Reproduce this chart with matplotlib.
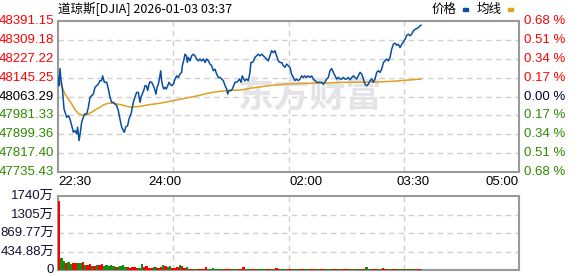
import matplotlib.pyplot as plt
from matplotlib.patches import Rectangle
from matplotlib.transforms import blended_transform_factory

plt.rcParams['font.family'] = ['Liberation Sans', 'Noto Sans CJK SC', 'DejaVu Sans']

title = '道琼斯[DJIA] 2026-01-03 03:37'
price_ticks = [47735.43, 47817.40, 47899.36, 47981.33, 48063.29, 48145.25, 48227.22, 48309.18, 48391.15]
pct_labels = ['0.68', '0.51', '0.34', '0.17', '0.00', '0.17', '0.34', '0.51', '0.68']
time_labels = ['22:30', '24:00', '02:00', '03:30', '05:00']
time_pos = [0, 90, 210, 300, 390]
vol_ticks = [0, 434.88, 869.77, 1305, 1740]
vol_labels = ['0', '434.88万', '869.77万', '1305万', '1740万']

# minutes since 22:30, price
price_t = [0.5, 0.8, 1.7, 2.5, 3.7, 5.1, 6.0, 7.3, 8.7, 10.1, 11.6, 13.0, 14.4, 15.8, 16.6, 17.8, 18.9, 20.0, 21.4, 22.8,
           24.3, 25.7, 27.1, 28.5, 29.9, 31.3, 32.7, 34.1, 35.5, 36.9, 37.8, 39.2, 41.2, 42.6, 44.0, 45.4, 46.8, 48.2,
           49.6, 51.0, 52.4, 53.9, 55.3, 56.1, 57.2, 58.9, 60.1, 61.8, 62.9, 64.0, 65.1, 66.5, 68.0, 69.4, 70.2, 71.3,
           72.5, 73.6, 74.7, 75.9, 77.0, 77.8,
           79.2, 80.7, 82.1, 82.9, 83.8, 84.9, 86.0, 86.9, 87.7, 88.5, 89.4, 90.5, 91.6, 92.8, 93.9, 95.0, 96.2, 97.6,
           99.0, 100.4, 101.8, 103.2, 104.6, 105.2, 106.3, 107.4, 108.6, 109.4, 110.3, 111.7, 113.1, 114.5, 115.9,
           117.3, 118.7, 120.1, 121.5, 123.0, 124.4, 125.8, 127.2, 128.6, 130.0, 131.4, 132.8, 134.2, 135.6, 137.1,
           138.5, 139.9, 141.3, 142.7, 143.5, 144.7, 146.4, 147.5, 148.6, 149.7,
           151.1, 152.5, 153.6, 154.8, 155.9, 157.0, 158.2, 159.6, 161.0, 162.4, 163.2, 164.4, 165.5, 166.6, 168.0,
           169.4, 170.9, 172.3, 173.7, 175.1, 176.5, 177.9, 179.3, 180.7, 182.1, 183.5, 184.9, 186.4, 187.8, 189.2,
           190.6, 192.0, 193.4, 194.8, 196.2, 197.6, 199.1, 200.5, 201.9, 203.3, 204.7, 206.1, 207.5, 208.9, 210.3,
           211.7, 213.1, 214.6, 216.0, 217.4, 218.8, 220.2, 221.6, 223.0, 224.4, 225.8,
           227.3, 228.7, 230.1, 231.5, 232.9, 234.4, 235.8, 237.2, 238.6, 240.0, 241.4, 242.8, 244.2, 245.6, 247.1,
           248.5, 249.9, 251.3, 252.7, 254.1, 255.5, 256.9, 258.3, 259.7, 261.2, 262.6, 264.0, 265.4, 266.8, 268.2,
           269.6, 271.0, 272.4, 273.8, 275.3, 276.7, 278.1, 279.5, 280.9, 282.3, 283.7, 285.1, 286.5, 287.9, 289.4,
           290.8, 292.2, 293.6, 295.0, 296.4, 297.8, 299.2, 300.6, 302.0, 303.5, 304.9, 306.3, 307.1]
price_v = [48146, 48110, 48185, 48139, 48096, 48009, 47995, 47973, 47980, 47966, 47937, 47908, 47915, 47901, 47930,
           47872, 47908, 47951, 47973, 47988, 47988, 48016, 48060, 48067, 48074, 48103, 48110, 48117, 48132, 48132,
           48153, 48125, 48125, 48096, 48060, 48038, 48038, 48031, 48024, 48002, 47966, 47930, 47915, 47908, 47930,
           47937, 47966, 47988, 48016, 48045, 48060, 48081, 48081, 48038, 48060, 48074, 48089, 48110, 48110, 48089,
           48117, 48127,
           48125, 48110, 48089, 48074, 48103, 48117, 48146, 48175, 48132, 48110, 48096, 48103, 48096, 48110, 48125,
           48117, 48110, 48117, 48139, 48153, 48146, 48161, 48168, 48197, 48218, 48247, 48240, 48211, 48233, 48218,
           48240, 48247, 48240, 48226, 48218, 48226, 48218, 48226, 48211, 48226, 48218, 48204, 48197, 48175, 48182,
           48161, 48146, 48146, 48139, 48132, 48110, 48096, 48074, 48089, 48089, 48096, 48110, 48125,
           48125, 48132, 48139, 48125, 48153, 48139, 48132, 48139, 48132, 48168, 48211, 48211, 48218, 48233, 48240,
           48247, 48240, 48247, 48240, 48233, 48226, 48218, 48240, 48262, 48254, 48262, 48240, 48218, 48211, 48211,
           48197, 48190, 48204, 48197, 48190, 48161, 48146, 48132, 48139, 48132, 48139, 48153, 48146, 48153, 48146,
           48153, 48146, 48153, 48139, 48132, 48125, 48125, 48125, 48125, 48117, 48125,
           48139, 48146, 48175, 48185, 48168, 48153, 48139, 48146, 48139, 48139, 48146, 48139, 48139, 48146, 48136,
           48146, 48153, 48146, 48139, 48153, 48168, 48161, 48139, 48117, 48110, 48117, 48132, 48139, 48125, 48139,
           48168, 48175, 48168, 48182, 48211, 48218, 48226, 48218, 48233, 48269, 48290, 48295, 48286, 48290, 48276,
           48290, 48301, 48312, 48329, 48334, 48327, 48334, 48348, 48355, 48358, 48363, 48370, 48373]

avg_t = [0.8, 3.1, 5.9, 8.7, 11.6, 14.4, 17.2, 20.0, 24.3, 27.1, 29.9, 32.7, 35.5, 38.4, 42.6, 46.8, 49.6, 53.9,
         58.1, 62.3, 66.6, 70.8, 77.8, 82.1, 90.5, 101.8, 115.9, 130.0, 144.1, 154.0, 163.8, 177.9, 192.0, 206.1,
         230.1, 240.0, 254.1, 268.2, 282.3, 292.2, 307.1]
avg_v = [48139, 48110, 48074, 48052, 48031, 48006, 47990, 47983, 47983, 47992, 47999, 48009, 48016, 48027, 48034,
         48034, 48031, 48027, 48021, 48016, 48019, 48022, 48028, 48031, 48038, 48050, 48064, 48081, 48090, 48091,
         48100, 48110, 48117, 48120, 48122, 48125, 48125, 48126, 48129, 48133, 48139]

# volume in 万, two-minute bins, r = up, g = down
vol_v = [1621, 290, 200, 170, 180, 142, 160, 166, 170, 174, 180, 119, 110, 140, 95, 103, 119, 110, 134, 87,
         119, 95, 119, 87, 79, 71, 95, 110, 79, 63, 47, 63, 71, 55, 55, 142, 63, 87, 55, 40,
         63, 71, 55, 79, 119, 95, 63, 95, 55, 40, 79, 119, 95, 55, 79, 32, 32, 24, 24, 24,
         24, 24, 71, 32, 24, 47, 24, 24, 24, 24, 24, 24, 24, 24, 24, 24, 24, 24, 71, 24,
         24, 24, 24, 24, 24, 24, 24, 24, 24, 24, 24, 24, 47, 24, 24, 24, 24, 24, 20, 20,
         20, 20, 20, 20, 20, 20, 20, 20, 20, 20, 20, 20, 20, 20, 20, 20, 20, 20, 20, 20,
         20, 20, 20, 20, 20, 20, 20, 20, 20, 20, 70, 20, 20, 20, 20, 20, 20, 50, 20, 20,
         20, 20, 20, 20, 20, 20, 20, 20, 20, 20, 20, 20, 20, 20]
vol_c = ('rggrggrrggrgrrgrgrrggggg' 'rggggrrrrrggrrrrggrrgrggrr'
         'rgrrgrrggrrrrgggggggrrrgggrrrgggrrggggrrggrrggg'
         'rrgggrrggrrrggrrgggrrggrrrggrggrrgggrrggrrggrrgg')

red = '#ff0000'
green = '#2f8a00'
grid_c = '#d0d0d0'

fig = plt.figure(figsize=(5.78, 2.76), dpi=100)
W, H = 578, 276
ax = fig.add_axes([58 / W, 1 - 172 / H, 461 / W, 151 / H])
vax = fig.add_axes([58 / W, 1 - 270 / H, 461 / W, 74 / H])

for a in (ax, vax):
    a.set_xlim(0, 390)
    a.set_xticks([])
    a.set_yticks([])
    for s in a.spines.values():
        s.set_color('#999999')
        s.set_linewidth(1.5)
    for x in (97.5, 195, 292.5):
        a.axvline(x, color=grid_c, lw=1, ls=(0, (4, 3)), zorder=0)

ax.set_ylim(price_ticks[0], price_ticks[-1])
for y in price_ticks[1:-1]:
    ax.axhline(y, color=grid_c, lw=1, ls=(0, (4, 3)), zorder=0)

ax.text(213, 48066, '东方财富', ha='center', va='center', fontsize=26, fontweight='bold',
        color='#e4e4e8', family=['Noto Sans CJK SC'], zorder=1)

ax.plot(avg_t, avg_v, color='#e0a020', lw=1.1, zorder=3)
ax.plot(price_t, price_v, color='#0a4fa0', lw=1.1, zorder=4)

tr = blended_transform_factory(ax.transAxes, ax.transData)
for i, (y, p) in enumerate(zip(price_ticks, pct_labels)):
    c = red if i > 4 else ('black' if i == 4 else green)
    ax.text(-0.008, y, '%.2f' % y, transform=tr, ha='right', va='center', fontsize=9.5, color=c)
    ax.text(1.011, y, p + ' %', transform=tr, ha='left', va='center', fontsize=9.5,
            color=c if i != 4 else '#000033')

tx = blended_transform_factory(ax.transData, ax.transAxes)
for i, (t, lab) in enumerate(zip(time_pos, time_labels)):
    ha = 'left' if i == 0 else ('right' if i == len(time_pos) - 1 else 'center')
    ax.text(t, -0.068, lab, transform=tx, ha=ha, va='center', fontsize=9.5, color='black')

vax.set_ylim(0, vol_ticks[-1])
for y in vol_ticks[1:-1]:
    vax.axhline(y, color=grid_c, lw=1, ls=(0, (4, 3)), zorder=0)
vol_x = [2 * k for k in range(len(vol_v))]
vax.bar(vol_x, vol_v, width=2, align='edge', linewidth=0,
        color=[red if c == 'r' else '#138a13' for c in vol_c[:len(vol_v)]], zorder=3)
vtr = blended_transform_factory(vax.transAxes, vax.transData)
for y, lab in zip(vol_ticks, vol_labels):
    vax.text(-0.008, y, lab, transform=vtr, ha='right', va='center', fontsize=9.5, color='#111133')

fig.text(58 / W, 1 - 9 / H, title, ha='left', va='center', fontsize=9, family=['Noto Sans CJK SC'])
fig.text(432 / W, 1 - 9 / H, '价格', ha='left', va='center', fontsize=9, family=['Noto Sans CJK SC'])
fig.text(477 / W, 1 - 9 / H, '均线', ha='left', va='center', fontsize=9, family=['Noto Sans CJK SC'])
fig.patches.append(Rectangle((463 / W, 1 - 11 / H), 5 / W, 3 / H, transform=fig.transFigure,
                             color='#0a4fa0'))
fig.patches.append(Rectangle((508 / W, 1 - 11 / H), 5 / W, 3 / H, transform=fig.transFigure,
                             color='#e0a020'))

fig.savefig('out.png', dpi=100)
